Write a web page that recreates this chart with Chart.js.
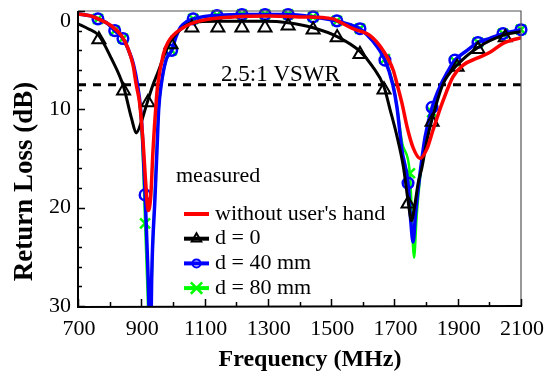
<!DOCTYPE html>
<html>
<head>
<meta charset="utf-8">
<script src="https://cdn.jsdelivr.net/npm/chart.js@4.4.0/dist/chart.umd.min.js"></script>
<style>
  body { margin: 0; background: #fff; }
  canvas { display: block; }
</style>
</head>
<body>
<canvas id="chart" width="551" height="375"></canvas>
<script>
// tick labels
const xTickLabels = [700, 900, 1100, 1300, 1500, 1700, 1900, 2100];
const yTickLabels = [0, 10, 20, 30];
const vswrLevel = 7.5;

// without user's hand (red)
const redF  = [700, 740, 763, 805, 837, 858, 874, 884, 895, 906, 914, 922, 930, 937, 947, 952, 969, 984, 1032, 1086, 1190, 1307, 1400, 1506, 1520, 1569, 1623, 1664, 1696, 1708, 1724, 1740, 1759, 1781, 1803, 1822, 1854, 1885, 1917, 1961, 2002, 2043, 2100];
const redDb = [0.3, 0.5, 0.8, 1.5, 2.5, 3.8, 5.5, 7.5, 9.4, 13.5, 17.5, 20.3, 18.8, 14.2, 9.3, 7.5, 4.5, 3.2, 1.7, 1.0, 0.6, 0.5, 0.6, 0.8, 1.0, 1.8, 2.5, 4.0, 6.0, 7.4, 9.4, 11.8, 13.9, 15.0, 14.0, 12.1, 9.1, 6.7, 5.5, 4.8, 4.2, 3.3, 2.7];

// d = 0 (black)
const blackF  = [700, 732, 766, 805, 844, 869, 884, 900, 916, 937, 953, 975, 994, 1020, 1060, 1142, 1218, 1291, 1364, 1443, 1519, 1591, 1630, 1667, 1686, 1707, 1728, 1743, 1754, 1764, 1775, 1787, 1803, 1819, 1854, 1898, 1964, 2050, 2100];
const blackDb = [1.3, 1.8, 2.5, 4.8, 7.7, 10.9, 12.4, 11.3, 9.6, 7.5, 6.2, 4.3, 3.0, 2.0, 1.2, 1.05, 1.05, 1.05, 1.2, 1.7, 2.6, 4.1, 5.6, 7.7, 10.0, 12.6, 15.8, 19.3, 21.3, 19.8, 17.5, 15.9, 13.1, 11.0, 7.4, 5.5, 3.7, 2.4, 2.1];
const blackMarkF  = [766, 844, 921, 994, 1060, 1142, 1218, 1291, 1364, 1443, 1519, 1591, 1667, 1743, 1819, 1898, 1964, 2050];
const blackMarkDb = [2.9, 8.1, 9.3, 3.4, 1.7, 1.7, 1.7, 1.7, 1.5, 1.9, 2.7, 4.4, 8.0, 19.6, 11.3, 5.7, 3.9, 2.7];

// d = 40 mm (blue)
const blueF  = [700, 740, 763, 790, 816, 842, 860, 875, 888, 898, 905, 912, 920, 924, 928, 933, 943, 950, 955, 963, 978, 996, 1010, 1025, 1043, 1064, 1100, 1139, 1218, 1291, 1364, 1443, 1518, 1560, 1591, 1630, 1670, 1695, 1708, 1724, 1743, 1752, 1759, 1767, 1781, 1797, 1819, 1845, 1866, 1891, 1930, 1964, 2000, 2043, 2100];
const blueDb = [0.3, 0.5, 0.8, 1.2, 2.0, 2.8, 4.0, 5.4, 7.5, 10.0, 13.5, 18.7, 25.5, 30, 38, 27, 19.2, 13.8, 10.0, 7.5, 5.0, 4.0, 2.6, 1.6, 1.1, 0.8, 0.55, 0.45, 0.35, 0.35, 0.35, 0.6, 1.0, 1.4, 1.8, 3.0, 5.0, 7.5, 9.8, 14.2, 17.5, 21.5, 23.5, 20.5, 16.5, 12.8, 9.8, 7.6, 6.3, 5.0, 4.0, 3.2, 2.8, 2.3, 1.9];
const blueMarkF  = [763, 816, 842, 912, 996, 1064, 1139, 1218, 1291, 1364, 1443, 1518, 1591, 1670, 1743, 1819, 1891, 1964, 2043, 2100];
const blueMarkDb = [0.8, 2.0, 2.8, 18.7, 4.0, 0.8, 0.45, 0.35, 0.35, 0.35, 0.6, 1.0, 1.8, 5.0, 17.5, 9.8, 5.0, 3.2, 2.3, 1.9];

// d = 80 mm (green)
const greenF  = [700, 740, 763, 790, 816, 842, 860, 875, 888, 898, 905, 912, 918, 922, 926, 930, 935, 943, 950, 955, 963, 978, 996, 1010, 1025, 1043, 1064, 1100, 1139, 1218, 1291, 1364, 1443, 1518, 1560, 1591, 1630, 1670, 1695, 1710, 1725, 1749, 1762, 1770, 1781, 1797, 1819, 1845, 1866, 1891, 1930, 1964, 2000, 2043, 2100];
const greenDb = [0.3, 0.5, 0.8, 1.2, 2.0, 2.8, 4.1, 5.6, 7.8, 10.6, 15.0, 21.6, 27, 31, 38, 31, 25, 18.5, 13.2, 10.0, 7.6, 5.1, 4.0, 2.6, 1.6, 1.1, 0.8, 0.55, 0.45, 0.35, 0.35, 0.35, 0.6, 1.0, 1.4, 1.8, 3.0, 4.9, 7.3, 10.2, 13.5, 16.5, 25.1, 21.0, 17.0, 13.2, 10.3, 7.8, 6.5, 5.1, 4.0, 3.2, 2.8, 2.3, 1.9];
const greenMarkF  = [763, 816, 842, 912, 996, 1064, 1139, 1218, 1291, 1364, 1443, 1518, 1591, 1670, 1749, 1819, 1891, 1964, 2043, 2100];
const greenMarkDb = [0.8, 2.0, 2.8, 21.6, 4.0, 0.8, 0.45, 0.35, 0.35, 0.35, 0.6, 1.0, 1.8, 4.9, 16.5, 10.3, 5.1, 3.2, 2.3, 1.9];

const pts = (f, v) => f.map((x, i) => ({x: x, y: v[i]}));

const FONT = "'Liberation Serif', 'Times New Roman', serif";

const lineSet = (label, f, v, color, width, order) => ({
  label: label, data: pts(f, v), borderColor: color, borderWidth: width,
  pointRadius: 0, fill: false, cubicInterpolationMode: 'monotone', order: order
});
const markSet = (f, v, color, style, radius, width, order) => ({
  data: pts(f, v), showLine: false, borderColor: color, backgroundColor: 'rgba(0,0,0,0)',
  pointStyle: style, pointRadius: radius, pointBorderWidth: width, clip: false, order: order
});

// legend rows: label, colour, line width, marker
const legendRows = [
  {text: "without user's hand", color: '#ff0000', style: null},
  {text: 'd = 0', color: '#000000', style: 'triangle', radius: 5.5, width: 2},
  {text: 'd = 40 mm', color: '#0000ff', style: 'circle', radius: 4, width: 2},
  {text: 'd = 80 mm', color: '#00ff00', style: 'crossRot', radius: 8, width: 2.5}
];

const frame = {
  id: 'frame',
  afterDraw(chart) {
    const ctx = chart.ctx, a = chart.chartArea;
    const xs = chart.scales.x, ys = chart.scales.y;
    ctx.save();

    // top / right frame
    ctx.strokeStyle = '#555';
    ctx.lineWidth = 1.2;
    ctx.beginPath();
    ctx.moveTo(a.left, a.top); ctx.lineTo(a.right, a.top); ctx.lineTo(a.right, a.bottom);
    ctx.stroke();

    // inward ticks
    ctx.strokeStyle = '#000';
    ctx.lineWidth = 1.5;
    ctx.beginPath();
    xs.ticks.forEach(t => {
      const px = Math.round(xs.getPixelForValue(t.value)) + 0.5;
      const len = xTickLabels.includes(t.value) ? 7 : 4;
      ctx.moveTo(px, a.bottom); ctx.lineTo(px, a.bottom - len);
    });
    ys.ticks.forEach(t => {
      const py = Math.round(ys.getPixelForValue(t.value)) + 0.5;
      const len = yTickLabels.includes(t.value) ? 7 : 4;
      ctx.moveTo(a.left, py); ctx.lineTo(a.left + len, py);
    });
    ctx.stroke();

    // left / bottom axis lines
    ctx.lineWidth = 2;
    ctx.beginPath();
    ctx.moveTo(a.left, a.top); ctx.lineTo(a.left, a.bottom + 1); ctx.lineTo(a.right + 1, a.bottom);
    ctx.stroke();

    // tick labels
    ctx.fillStyle = '#000';
    ctx.font = '22px ' + FONT;
    ctx.textAlign = 'center';
    ctx.textBaseline = 'alphabetic';
    xTickLabels.forEach(v => ctx.fillText(String(v), xs.getPixelForValue(v) + 1, 335));
    ctx.textAlign = 'right';
    ctx.textBaseline = 'middle';
    yTickLabels.forEach(v => {
      const py = Math.max(ys.getPixelForValue(v), a.top + 10);
      ctx.fillText(String(v), 71, py);
    });

    // axis titles
    ctx.font = 'bold 24px ' + FONT;
    ctx.textAlign = 'center';
    ctx.textBaseline = 'alphabetic';
    ctx.fillText('Frequency (MHz)', 310, 366);
    ctx.save();
    ctx.translate(31.5, 181.5);
    ctx.rotate(-Math.PI / 2);
    ctx.font = 'bold 27px ' + FONT;
    ctx.fillText('Return Loss (dB)', 0, 0);
    ctx.restore();

    // VSWR note
    ctx.font = '23px ' + FONT;
    ctx.textAlign = 'left';
    ctx.fillText('2.5:1 VSWR', 221, 81);

    // legend
    ctx.font = '22px ' + FONT;
    ctx.fillText('measured', 176, 182);
    legendRows.forEach((r, i) => {
      const y = 214 + i * 24.7;
      ctx.strokeStyle = r.color;
      ctx.lineWidth = 4;
      ctx.beginPath();
      ctx.moveTo(184, y); ctx.lineTo(209, y);
      ctx.stroke();
      if (r.style) {
        ctx.lineWidth = r.width;
        ctx.fillStyle = 'rgba(0,0,0,0)';
        Chart.helpers.drawPoint(ctx, {pointStyle: r.style, radius: r.radius, borderWidth: r.width, rotation: 0}, 196.5, y);
      }
      ctx.fillStyle = '#000';
      ctx.fillText(r.text, 215, y + 5.5);
    });

    ctx.restore();
  }
};

new Chart(document.getElementById('chart'), {
  type: 'line',
  data: {
    datasets: [
      lineSet('without user\'s hand', redF, redDb, '#ff0000', 3.5, 1),
      markSet(blackMarkF, blackMarkDb, '#000000', 'triangle', 7.5, 2, 2),
      lineSet('d = 0', blackF, blackDb, '#000000', 3, 3),
      markSet(blueMarkF, blueMarkDb, '#0000ff', 'circle', 5.3, 2.5, 4),
      lineSet('d = 40 mm', blueF, blueDb, '#0000ff', 3.5, 5),
      markSet(greenMarkF, greenMarkDb, '#00ff00', 'crossRot', 7, 2.5, 6),
      lineSet('d = 80 mm', greenF, greenDb, '#00ff00', 2.5, 7),
      {
        data: [{x: 700, y: vswrLevel}, {x: 2100, y: vswrLevel}],
        borderColor: '#000', borderWidth: 3, borderDash: [8, 7], pointRadius: 0, order: 8
      }
    ]
  },
  options: {
    responsive: false,
    animation: false,
    devicePixelRatio: 1,
    layout: { padding: { top: 11, right: 30, left: 0, bottom: 0 } },
    plugins: { legend: { display: false }, tooltip: { enabled: false } },
    scales: {
      x: {
        type: 'linear', min: 700, max: 2100,
        ticks: { display: false, stepSize: 100 },
        grid: { display: false },
        border: { display: false },
        afterFit: s => { s.height = 69; }
      },
      y: {
        type: 'linear', min: 0, max: 30, reverse: true,
        ticks: { display: false, stepSize: 2 },
        grid: { display: false },
        border: { display: false },
        afterFit: s => { s.width = 78; }
      }
    }
  },
  plugins: [frame]
});
</script>
</body>
</html>
